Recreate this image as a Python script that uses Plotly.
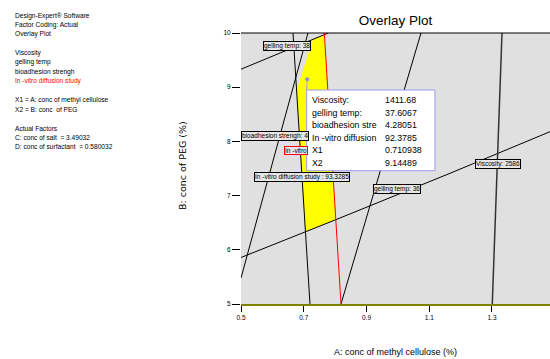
import plotly.graph_objects as go

# Contour lines in design space: A = conc of methyl cellulose, B = conc of PEG
gel38_a = [0.5, 0.7783]
gel38_b = [9.332, 10.0]
gel36_a = [0.5, 0.8028, 1.1661, 1.4211, 1.4849]
gel36_b = [5.858, 6.557, 7.411, 8.026, 8.179]
bio_a = [0.6657, 0.7199]
bio_b = [10.0, 5.0]
steep_a = [0.5, 0.7135]
steep_b = [5.480, 10.0]
diff_a = [0.7655, 0.8187]
diff_b = [10.0, 5.0]
upper_a = [0.8187, 1.0737]
upper_b = [5.0, 10.0]
visc_a = [1.3009, 1.3319]
visc_b = [5.0, 10.0]

# Feasible (overlay) window
window_a = [0.7295, 0.7658, 0.8021, 0.7056, 0.6769]
window_b = [9.882, 9.970, 6.557, 6.334, 8.937]

# Flagged point and its predicted responses
flag_x1 = 0.710938
flag_x2 = 9.14489
flag_names = ["Viscosity:", "gelling temp:", "bioadhesion stre", "In -vitro diffusion", "X1", "X2"]
flag_values = ["1411.68", "37.6067", "4.28051", "92.3785", "0.710938", "9.14489"]

x_ticks = [0.5, 0.7, 0.9, 1.1, 1.3]
y_ticks = [5, 6, 7, 8, 9, 10]

info_lines = [
    ("Design-Expert® Software", "black"),
    ("Factor Coding: Actual", "black"),
    ("Overlay Plot", "black"),
    (None, None),
    ("Viscosity", "black"),
    ("gelling temp", "black"),
    ("bioadhesion strengh", "black"),
    ("In -vitro diffusion study", "red"),
    (None, None),
    ("X1 = A: conc of methyl cellulose", "black"),
    ("X2 = B: conc\u00a0\u00a0of PEG", "black"),
    (None, None),
    ("Actual Factors", "black"),
    ("C: conc of salt\u00a0\u00a0= 3.49032", "black"),
    ("D: conc of surfactant\u00a0\u00a0= 0.580032", "black"),
]

SANS = "Liberation Sans, Arial, sans-serif"

fig = go.Figure()

fig.add_trace(go.Scatter(x=window_a, y=window_b, fill="toself", fillcolor="#ffff00",
                         mode="none", hoverinfo="skip"))

def contour(a, b, color="black", width=1):
    fig.add_trace(go.Scatter(x=a, y=b, mode="lines",
                             line=dict(color=color, width=width), hoverinfo="skip"))

contour(gel38_a, gel38_b)
contour(gel36_a, gel36_b)
contour(bio_a, bio_b)
contour(steep_a, steep_b)
contour(upper_a, upper_b)
contour(visc_a, visc_b, color="#333333", width=1.5)
contour(diff_a, diff_b, color="#ff0000")

# Flag box
box_x0, box_x1 = 0.7094, 1.1183
box_y0, box_y1 = 7.459, 8.948
fig.add_shape(type="rect", x0=box_x0, x1=box_x1, y0=box_y0, y1=box_y1,
              fillcolor="white", line=dict(color="#9a9af0", width=1), layer="above")
fig.add_shape(type="line", x0=flag_x1, x1=box_x0, y0=flag_x2, y1=box_y1,
              line=dict(color="#9a9af0", width=1), layer="above")
fig.add_trace(go.Scatter(x=[flag_x1], y=[flag_x2], mode="markers",
                         marker=dict(color="#8c8ce6", size=4), hoverinfo="skip"))

row_top = 8.764
row_step = 12.6 / 54.2
for i, (name, val) in enumerate(zip(flag_names, flag_values)):
    yy = row_top - i * row_step
    fig.add_annotation(x=0.7199, y=yy, text=name, showarrow=False, xanchor="left",
                       yanchor="middle", font=dict(family=SANS, size=8.8, color="black"))
    fig.add_annotation(x=0.9516, y=yy, text=val, showarrow=False, xanchor="left",
                       yanchor="middle", font=dict(family=SANS, size=8.8, color="black"))

# Contour labels
def tag(x, y, text, anchor="center", border="black"):
    fig.add_annotation(x=x, y=y, text=text, showarrow=False, xanchor=anchor, yanchor="middle",
                       font=dict(family=SANS, size=6.5, color="black"),
                       bgcolor="#e6e6e6", bordercolor=border, borderwidth=1, borderpad=0)

tag(0.6466, 9.769, "gelling temp: 38")
tag(0.5, 8.100, "bioadhesion strengh: 4", anchor="left")
tag(0.637, 7.841, "In -vitro", anchor="left", border="#ff0000")
tag(0.6935, 7.349, "In -vitro diffusion study : 93.3285")
tag(0.9988, 7.122, "gelling temp: 36")
tag(1.3191, 7.592, "Viscosity: 2586")

# Top border of the plot frame
fig.add_shape(type="line", xref="paper", yref="paper", x0=0, x1=1, y0=1, y1=1,
              line=dict(color="black", width=1))

# Information panel on the left
H = 359
for i, (txt, col) in enumerate(info_lines):
    if txt is None:
        continue
    py = 15.7 + i * 9.36
    fig.add_annotation(xref="paper", yref="paper", x=(13 - 241) / 309, y=(304 - py) / 271,
                       text=txt, showarrow=False, xanchor="left", yanchor="middle",
                       font=dict(family=SANS, size=6.6, color=col))

# Axis titles
fig.add_annotation(xref="paper", yref="paper", x=0.5, y=(304 - 352) / 271,
                   text="A: conc of methyl cellulose (%)", showarrow=False,
                   xanchor="center", yanchor="middle",
                   font=dict(family=SANS, size=9, color="black"))
fig.add_annotation(xref="paper", yref="paper", x=(182 - 241) / 309, y=(304 - 166) / 271,
                   text="B: conc of PEG (%)", showarrow=False, textangle=-90,
                   xanchor="center", yanchor="middle",
                   font=dict(family="DejaVu Sans, sans-serif", size=9.5, color="black"))

fig.update_layout(
    width=550, height=359,
    margin=dict(l=241, r=0, t=33, b=55),
    paper_bgcolor="white", plot_bgcolor="#e0e0e0",
    showlegend=False,
    title=dict(text="Overlay Plot", x=0.5, xref="paper", y=1 - 20 / H, yref="container",
               xanchor="center", yanchor="middle",
               font=dict(family=SANS, size=13.5, color="black")),
    xaxis=dict(range=[0.5, 1.4849], tickvals=x_ticks, ticktext=[f"{v:.1f}" for v in x_ticks],
               showgrid=False, zeroline=False, showline=True, linecolor="#808000", linewidth=2,
               ticks="outside", ticklen=6, tickcolor="black", tickwidth=1,
               tickfont=dict(family=SANS, size=6.5, color="black")),
    yaxis=dict(range=[5, 10], tickvals=y_ticks, showgrid=False, zeroline=False, showline=False,
               ticks="outside", ticklen=8, tickcolor="black", tickwidth=1,
               tickfont=dict(family=SANS, size=6.5, color="black")),
)

fig.write_html("out.html")
